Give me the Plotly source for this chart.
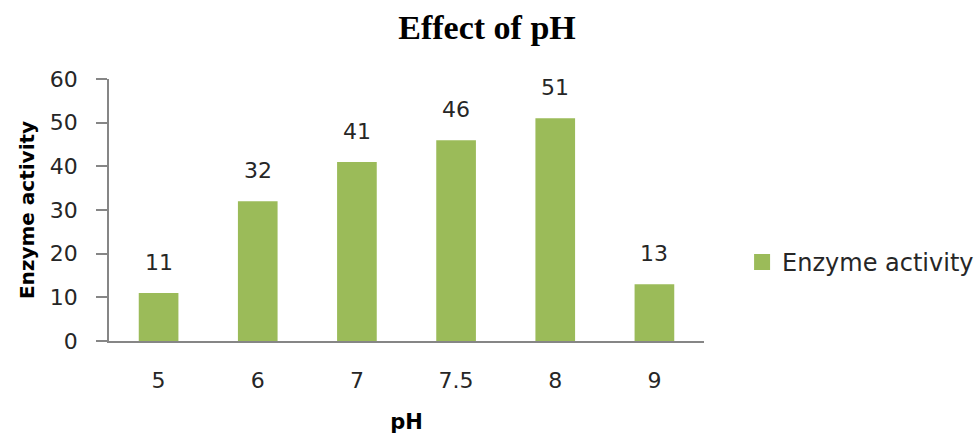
import plotly.graph_objects as go

# Enzyme activity measured at each pH
ph_levels = ["5", "6", "7", "7.5", "8", "9"]
activity = [11, 32, 41, 46, 51, 13]
y_ticks = [0, 10, 20, 30, 40, 50, 60]

BAR_GREEN = "#9BBB59"
AXIS_GREY = "#868686"
TEXT = "#262626"
SANS = "'DejaVu Sans', sans-serif"

fig = go.Figure()

fig.add_trace(go.Bar(
    x=ph_levels,
    y=activity,
    marker=dict(color=BAR_GREEN, line=dict(width=0)),
    showlegend=False,
    hoverinfo="x+y",
))

# legend entry with a larger square swatch
fig.add_trace(go.Scatter(
    x=[None], y=[None],
    mode="markers",
    marker=dict(symbol="square", size=16, color=BAR_GREEN),
    name="Enzyme activity",
))

# value labels above each bar (placed by category index)
for idx, yv in enumerate(activity):
    fig.add_annotation(
        x=idx, y=yv, text=str(yv),
        showarrow=False, yanchor="bottom", yshift=16,
        font=dict(family=SANS, size=22, color=TEXT),
    )

fig.update_layout(
    width=974, height=436,
    margin=dict(l=109, r=270, t=79, b=95, autoexpand=False),
    paper_bgcolor="white",
    plot_bgcolor="white",
    bargap=0.6,
    title=dict(
        text="<b>Effect of pH</b>",
        x=0.5, xanchor="center",
        y=0.938, yanchor="middle",
        font=dict(family="'Liberation Serif', 'Times New Roman', serif", size=34, color="#000000"),
    ),
    legend=dict(
        x=1.064, xanchor="left",
        y=0.30, yanchor="middle",
        font=dict(family=SANS, size=24, color=TEXT),
        itemwidth=30,
        bgcolor="rgba(0,0,0,0)",
    ),
    xaxis=dict(
        type="category",
        categoryorder="array", categoryarray=ph_levels,
        range=[-0.5, len(ph_levels) - 0.5],
        automargin=False,
        showline=True, linecolor=AXIS_GREY, linewidth=1.5,
        showgrid=False, ticks="",
        ticklabelstandoff=19,
        tickfont=dict(family=SANS, size=22, color=TEXT),
        title=dict(text="<b>pH</b>", standoff=22,
                   font=dict(family=SANS, size=21, color="#000000")),
    ),
    yaxis=dict(
        range=[0, 60],
        tickvals=y_ticks,
        automargin=False,
        showline=True, linecolor=AXIS_GREY, linewidth=1.5,
        showgrid=False, zeroline=False,
        ticks="outside", ticklen=11, tickcolor=AXIS_GREY, tickwidth=1.5,
        ticklabelstandoff=14,
        tickfont=dict(family=SANS, size=22, color=TEXT),
        title=dict(text="<b>Enzyme activity</b>", standoff=10,
                   font=dict(family=SANS, size=20, color="#000000")),
    ),
)

fig.write_html("out.html")
